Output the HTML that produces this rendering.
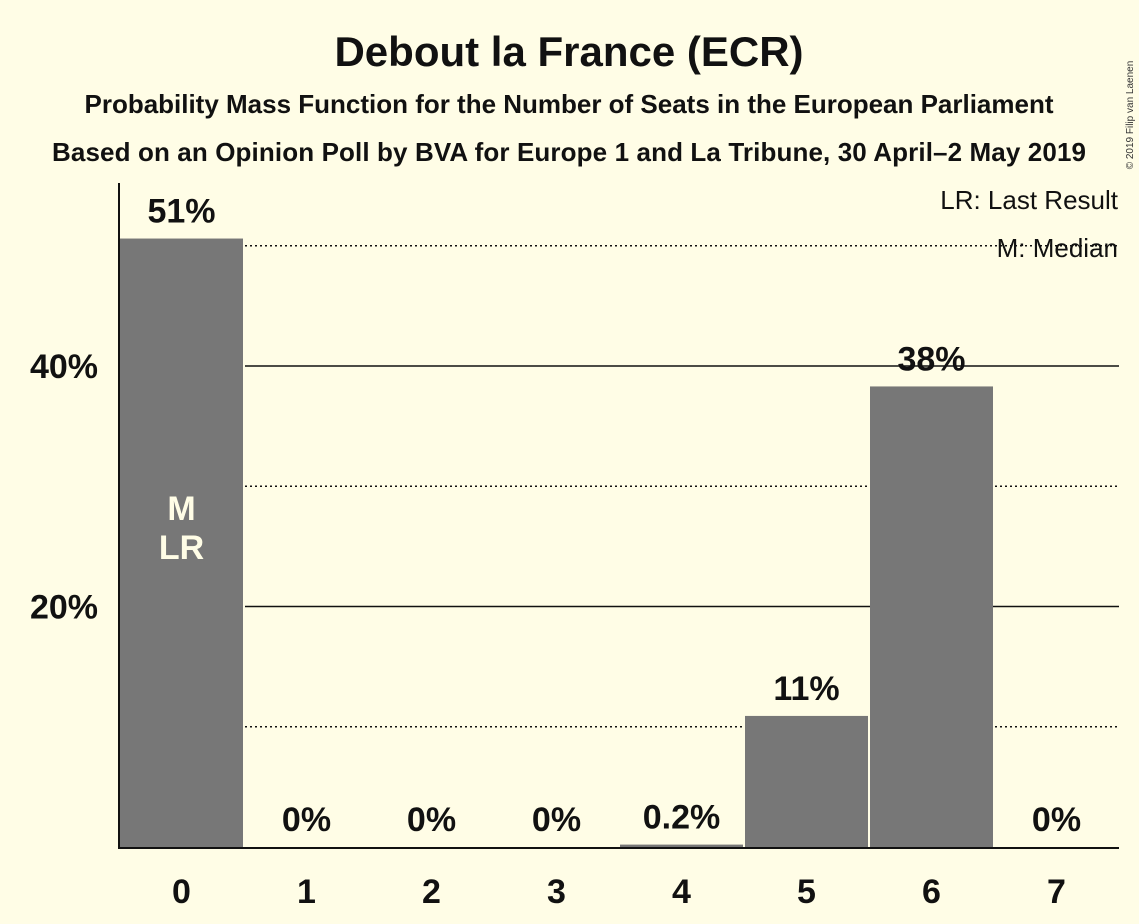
<!DOCTYPE html>
<html><head><meta charset="utf-8"><style>
body{margin:0;background:#fffde6;}
svg{display:block;font-family:"Liberation Sans",sans-serif;}
</style></head><body>
<svg id="chart" width="1139" height="924">
<rect width="1139" height="924" fill="#fffde6"/>
<text x="569" y="66" text-anchor="middle" font-size="42" font-weight="bold" fill="#111">Debout la France (ECR)</text>
<text x="569" y="113" text-anchor="middle" font-size="26" font-weight="bold" fill="#111" textLength="969">Probability Mass Function for the Number of Seats in the European Parliament</text>
<text x="569" y="161" text-anchor="middle" font-size="26" font-weight="bold" fill="#111" textLength="1034">Based on an Opinion Poll by BVA for Europe 1 and La Tribune, 30 April–2 May 2019</text>
<text x="1133" y="115" font-size="10" fill="#333" transform="rotate(-90 1133 115)" text-anchor="middle">© 2019 Filip van Laenen</text>
<g id="grid"></g>
<g id="bars"></g>
<g id="labels"></g>
<line x1="119" y1="183" x2="119" y2="848" stroke="#111" stroke-width="2"/>
<line x1="118" y1="848" x2="1119" y2="848" stroke="#111" stroke-width="2"/>
<text x="1118" y="209" text-anchor="end" font-size="26" fill="#111">LR: Last Result</text>
<text x="1118" y="257" text-anchor="end" font-size="26" fill="#111">M: Median</text>
</svg>
<script>
const seats=[0,1,2,3,4,5,6,7];
const probs=[50.6,0,0,0,0.2,10.9,38.3,0];
const valueLabels=["51%","0%","0%","0%","0.2%","11%","38%","0%"];
const yTicks=[20,40];
const yMinor=[10,30,50];
const medianSeat=0, lastResultSeat=0;
const NS="http://www.w3.org/2000/svg";
const y=v=>847-v*12.025;
const x=i=>119+125*i;
function mk(tag,attrs,parent,text){const e=document.createElementNS(NS,tag);for(const k in attrs)e.setAttribute(k,attrs[k]);if(text!==undefined)e.textContent=text;document.getElementById(parent).appendChild(e);return e;}
yMinor.forEach(v=>{const l=mk('line',{x1:245,x2:1119,y1:y(v),y2:y(v),stroke:'#111','stroke-width':1.5,'stroke-dasharray':'2,3'},'grid');

});
yTicks.forEach(v=>{const l=mk('line',{x1:245,x2:1119,y1:y(v),y2:y(v),stroke:'#111','stroke-width':1.5},'grid');


const t=mk('text',{x:98,y:y(v)+12,'text-anchor':'end','font-size':34,'font-weight':'bold',fill:'#111'},'labels',v+'%');

});
seats.forEach((s,i)=>{
 const p=probs[i];
 if(p>0){const r=mk('rect',{x:x(i)+1,y:y(p),width:123,height:847-y(p),fill:'#777'},'bars');
 
 }
 const ly=Math.min(y(p),847)-16;
 const t=mk('text',{x:x(i)+62.5,y:ly,'text-anchor':'middle','font-size':34,'font-weight':'bold',fill:'#111'},'labels',valueLabels[i]);
 
 
 const xt=mk('text',{x:x(i)+62.5,y:903,'text-anchor':'middle','font-size':34,'font-weight':'bold',fill:'#111'},'labels',String(s));
 
 
});
const m=mk('text',{x:x(medianSeat)+62.5,y:520,'text-anchor':'middle','font-size':34,'font-weight':'bold',fill:'#fffde6'},'labels','M');


const lr=mk('text',{x:x(lastResultSeat)+62.5,y:559,'text-anchor':'middle','font-size':34,'font-weight':'bold',fill:'#fffde6'},'labels','LR');


</script>
</body></html>
